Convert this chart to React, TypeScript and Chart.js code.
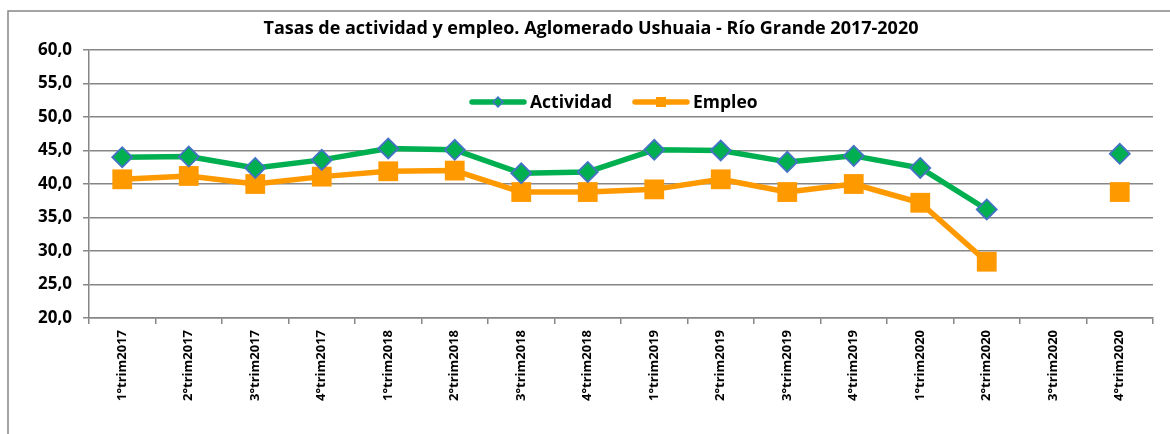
import React, { useEffect, useRef } from "react";
import { Chart, registerables } from "chart.js";

Chart.register(...registerables);

const TITLE = "Tasas de actividad y empleo. Aglomerado Ushuaia - Río Grande 2017-2020";

const categories = [
  "1°trim2017", "2°trim2017", "3°trim2017", "4°trim2017",
  "1°trim2018", "2°trim2018", "3°trim2018", "4°trim2018",
  "1°trim2019", "2°trim2019", "3°trim2019", "4°trim2019",
  "1°trim2020", "2°trim2020", "3°trim2020", "4°trim2020",
];

const actividad: (number | null)[] = [
  44.0, 44.1, 42.4, 43.6, 45.3, 45.1, 41.6, 41.8,
  45.1, 45.0, 43.3, 44.2, 42.4, 36.2, null, 44.5,
];

const empleo: (number | null)[] = [
  40.7, 41.2, 40.0, 41.1, 41.9, 42.0, 38.8, 38.8,
  39.2, 40.7, 38.8, 40.0, 37.2, 28.4, null, 38.8,
];

const yTicks = { min: 20, max: 60, step: 5 };

const FONT = "'Open Sans', Lato, sans-serif";
const GRID = "#868686";

const decorPlugin = {
  id: "decor",
  beforeDraw(chart: any) {
    const ctx = chart.ctx;
    ctx.save();
    ctx.strokeStyle = GRID;
    ctx.lineWidth = 1.5;
    ctx.beginPath();
    ctx.moveTo(8, 434);
    ctx.lineTo(8, 11);
    ctx.lineTo(1170, 11);
    ctx.stroke();
    ctx.restore();
  },
  afterDraw(chart: any) {
    const ctx = chart.ctx;
    ctx.save();
    // title
    ctx.fillStyle = "#000";
    ctx.font = `bold 18px ${FONT}`;
    ctx.textAlign = "center";
    ctx.textBaseline = "middle";
    ctx.fillText(TITLE, 591, 29);

    // legend
    const items = chart.data.datasets;
    const legendY = 102;
    const starts = [470, 633];
    items.forEach((ds: any, i: number) => {
      const x0 = starts[i];
      const x1 = x0 + 56;
      ctx.strokeStyle = ds.borderColor;
      ctx.lineWidth = 5.5;
      ctx.lineCap = "round";
      ctx.beginPath();
      ctx.moveTo(x0 + 2, legendY);
      ctx.lineTo(x1 - 2, legendY);
      ctx.stroke();
      const cx = (x0 + x1) / 2;
      if (ds.pointStyle === "rectRot") {
        ctx.fillStyle = ds.pointBackgroundColor;
        ctx.strokeStyle = ds.pointBorderColor;
        ctx.lineWidth = 1.5;
        ctx.beginPath();
        ctx.moveTo(cx - 5, legendY);
        ctx.lineTo(cx, legendY - 5);
        ctx.lineTo(cx + 5, legendY);
        ctx.lineTo(cx, legendY + 5);
        ctx.closePath();
        ctx.fill();
        ctx.stroke();
      } else {
        ctx.fillStyle = ds.pointBackgroundColor;
        ctx.fillRect(cx - 5, legendY - 5, 10, 10);
      }
      ctx.fillStyle = "#000";
      ctx.font = `bold 17.5px ${FONT}`;
      ctx.textAlign = "left";
      ctx.textBaseline = "middle";
      ctx.fillText(ds.label, x1 + 4, legendY + 1);
    });
    ctx.restore();
  },
};

export default function App() {
  const ref = useRef<HTMLCanvasElement>(null);

  useEffect(() => {
    if (!ref.current) return;
    const chart = new Chart(ref.current, {
      type: "line",
      data: {
        labels: categories,
        datasets: [
          {
            label: "Actividad",
            data: actividad,
            borderColor: "#00B050",
            backgroundColor: "#00B050",
            pointBackgroundColor: "#00B050",
            pointBorderColor: "#4472C4",
            pointBorderWidth: 1.8,
            pointStyle: "rectRot",
            pointRadius: 10,
            pointHoverRadius: 10,
            borderWidth: 5.5,
            borderJoinStyle: "round",
            spanGaps: false,
            tension: 0,
          },
          {
            label: "Empleo",
            data: empleo,
            borderColor: "#FF9900",
            backgroundColor: "#FF9900",
            pointBackgroundColor: "#FF9900",
            pointBorderColor: "#FF9900",
            pointBorderWidth: 0,
            pointStyle: "rect",
            pointRadius: 14,
            pointHoverRadius: 14,
            borderWidth: 5.5,
            borderJoinStyle: "round",
            spanGaps: false,
            tension: 0,
          },
        ],
      },
      options: {
        responsive: false,
        animation: false,
        devicePixelRatio: 1,
        layout: { padding: { left: 0, top: 50, right: 17, bottom: 0 } },
        plugins: {
          legend: { display: false },
          title: { display: false },
          tooltip: { enabled: false },
        },
        scales: {
          x: {
            offset: true,
            afterFit: (s: any) => { s.height = 116; },
            grid: {
              offset: true,
              drawOnChartArea: false,
              drawTicks: true,
              tickLength: 6,
              color: GRID,
              lineWidth: 1.5,
            },
            border: { color: GRID, width: 1.5 },
            ticks: {
              autoSkip: false,
              minRotation: 90,
              maxRotation: 90,
              padding: 6,
              color: "#000",
              font: { family: FONT, size: 13, weight: "bold" },
            },
          },
          y: {
            min: yTicks.min,
            max: yTicks.max,
            afterFit: (s: any) => { s.width = 89; },
            grid: {
              color: GRID,
              lineWidth: 1.5,
              drawTicks: true,
              tickLength: 6,
            },
            border: { color: GRID, width: 1.5 },
            ticks: {
              stepSize: yTicks.step,
              padding: 11,
              color: "#000",
              font: { family: FONT, size: 17, weight: "bold" },
              callback: (v: any) => Number(v).toFixed(1).replace(".", ","),
            },
          },
        },
      },
      plugins: [decorPlugin],
    });
    return () => chart.destroy();
  }, []);

  return (
    <div style={{ position: "absolute", left: 0, top: 0, width: 1170, height: 434, background: "#fff" }}>
      <canvas ref={ref} width={1170} height={434} style={{ width: 1170, height: 434, display: "block" }} />
    </div>
  );
}
